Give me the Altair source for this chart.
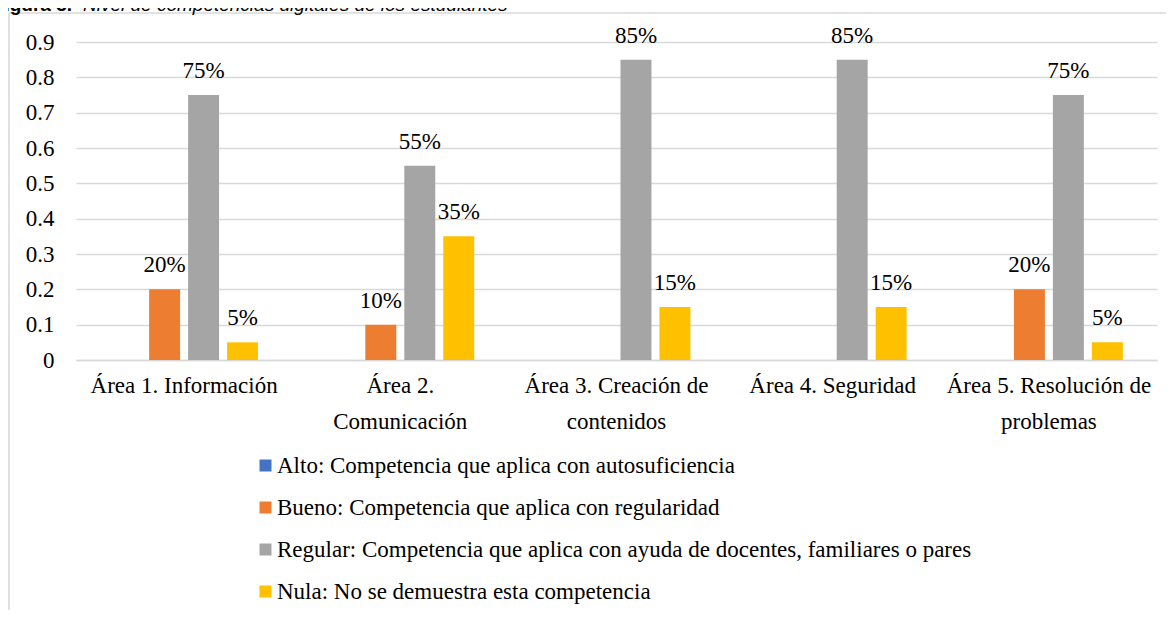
import altair as alt
import pandas as pd

# ---- data ----
categories = [
    "Área 1. Información",
    "Área 2. Comunicación",
    "Área 3. Creación de contenidos",
    "Área 4. Seguridad",
    "Área 5. Resolución de problemas",
]
category_lines = [
    ["Área 1. Información"],
    ["Área 2.", "Comunicación"],
    ["Área 3. Creación de", "contenidos"],
    ["Área 4. Seguridad"],
    ["Área 5. Resolución de", "problemas"],
]
series = [
    "Alto: Competencia que aplica con autosuficiencia",
    "Bueno: Competencia que aplica con regularidad",
    "Regular: Competencia que aplica con ayuda de docentes, familiares o pares",
    "Nula: No se demuestra esta competencia",
]
alto = [0, 0, 0, 0, 0]
bueno = [0.20, 0.10, 0, 0, 0.20]
regular = [0.75, 0.55, 0.85, 0.85, 0.75]
nula = [0.05, 0.35, 0.15, 0.15, 0.05]
colors = ["#4472C4", "#ED7D31", "#A5A5A5", "#FFC000"]
y_ticks = [0, 0.1, 0.2, 0.3, 0.4, 0.5, 0.6, 0.7, 0.8, 0.9]
title_bold = "Figura 3."
title_italic = "Nivel de competencias digitales de los estudiantes"

rows = []
for s, vals in zip(series, [alto, bueno, regular, nula]):
    for c, v in zip(categories, vals):
        rows.append({"category": c, "series": s, "value": v})
df = pd.DataFrame(rows)

# label expression for wrapped category labels
expr = "datum.label"
for c, lines in reversed(list(zip(categories, category_lines))):
    arr = "[" + ",".join("'" + l + "'" for l in lines) + "]"
    expr = f"datum.label == '{c}' ? {arr} : ({expr})"

SERIF = "Liberation Serif"
GRID = "#d9d9d9"
FS = 23

x_enc = alt.X(
    "category:N",
    sort=categories,
    scale=alt.Scale(paddingInner=0, paddingOuter=0),
    axis=alt.Axis(
        title=None,
        labelAngle=0,
        labelFont=SERIF,
        labelFontSize=FS,
        labelColor="black",
        labelPadding=14,
        labelLineHeight=36,
        labelExpr=expr,
        labelLimit=400,
        ticks=False,
        domainColor=GRID,
        domainWidth=1.6,
    ),
)
xoff_enc = alt.XOffset(
    "series:N",
    sort=series,
    scale=alt.Scale(domain=series, paddingInner=0.205, paddingOuter=0.877),
)
y_enc = alt.Y(
    "value:Q",
    scale=alt.Scale(domain=[0, 0.9], nice=False),
    axis=alt.Axis(
        title=None,
        values=y_ticks,
        format="~g",
        labelFont=SERIF,
        labelFontSize=FS,
        labelColor="black",
        labelPadding=22,
        labelOverlap=False,
        ticks=False,
        domain=False,
        gridColor=GRID,
        gridWidth=1.6,
    ),
)

bars = alt.Chart(df).mark_bar().encode(
    x=x_enc,
    xOffset=xoff_enc,
    y=y_enc,
    color=alt.Color(
        "series:N",
        sort=series,
        scale=alt.Scale(domain=series, range=colors),
        legend=alt.Legend(
            orient="none",
            legendX=178,
            legendY=412,
            direction="vertical",
            title=None,
            symbolType="square",
            symbolSize=144,
            symbolStrokeWidth=0,
            symbolOpacity=1,
            labelFont=SERIF,
            labelFontSize=FS,
            labelColor="black",
            labelLimit=1000,
            labelOffset=0,
            rowPadding=18,
        ),
    ),
)

labels = (
    alt.Chart(df)
    .transform_filter("datum.value > 0")
    .mark_text(font=SERIF, fontSize=FS, baseline="alphabetic", dy=-17, color="black")
    .encode(
        x=x_enc,
        xOffset=xoff_enc,
        y=y_enc,
        text=alt.Text("value:Q", format=".0%"),
    )
)

one = pd.DataFrame({"d": [0]})
left_border = alt.Chart(one).mark_rule(color=GRID, strokeWidth=1.6).encode(
    x=alt.value(-67), y=alt.value(-29), y2=alt.value(580)
)
top_border = alt.Chart(one).mark_rule(color=GRID, strokeWidth=1.6).encode(
    x=alt.value(-67), x2=alt.value(1100), y=alt.value(-29)
)
t_bold = alt.Chart(one).mark_text(
    font="Liberation Sans", fontSize=19, fontWeight="bold", align="right",
    baseline="alphabetic", color="black"
).encode(x=alt.value(-4), y=alt.value(-31), text=alt.value(title_bold))
t_ital = alt.Chart(one).mark_text(
    font="Liberation Sans", fontSize=19, fontStyle="italic", align="left",
    baseline="alphabetic", color="black"
).encode(x=alt.value(7), y=alt.value(-31), text=alt.value(title_italic))

chart = (
    alt.layer(left_border, top_border, t_bold, t_ital, bars, labels)
    .properties(
        width=1081,
        height=318,
        padding={"left": 68, "top": 34, "right": 9, "bottom": 250},
        autosize=alt.AutoSizeParams(type="none"),
        background="white",
    )
    .configure_view(stroke="transparent")
    .configure_axis(labelFont=SERIF)
    .configure_legend(labelFont=SERIF)
)

chart.save("out.html", embed_options={"renderer": "svg", "actions": False})
